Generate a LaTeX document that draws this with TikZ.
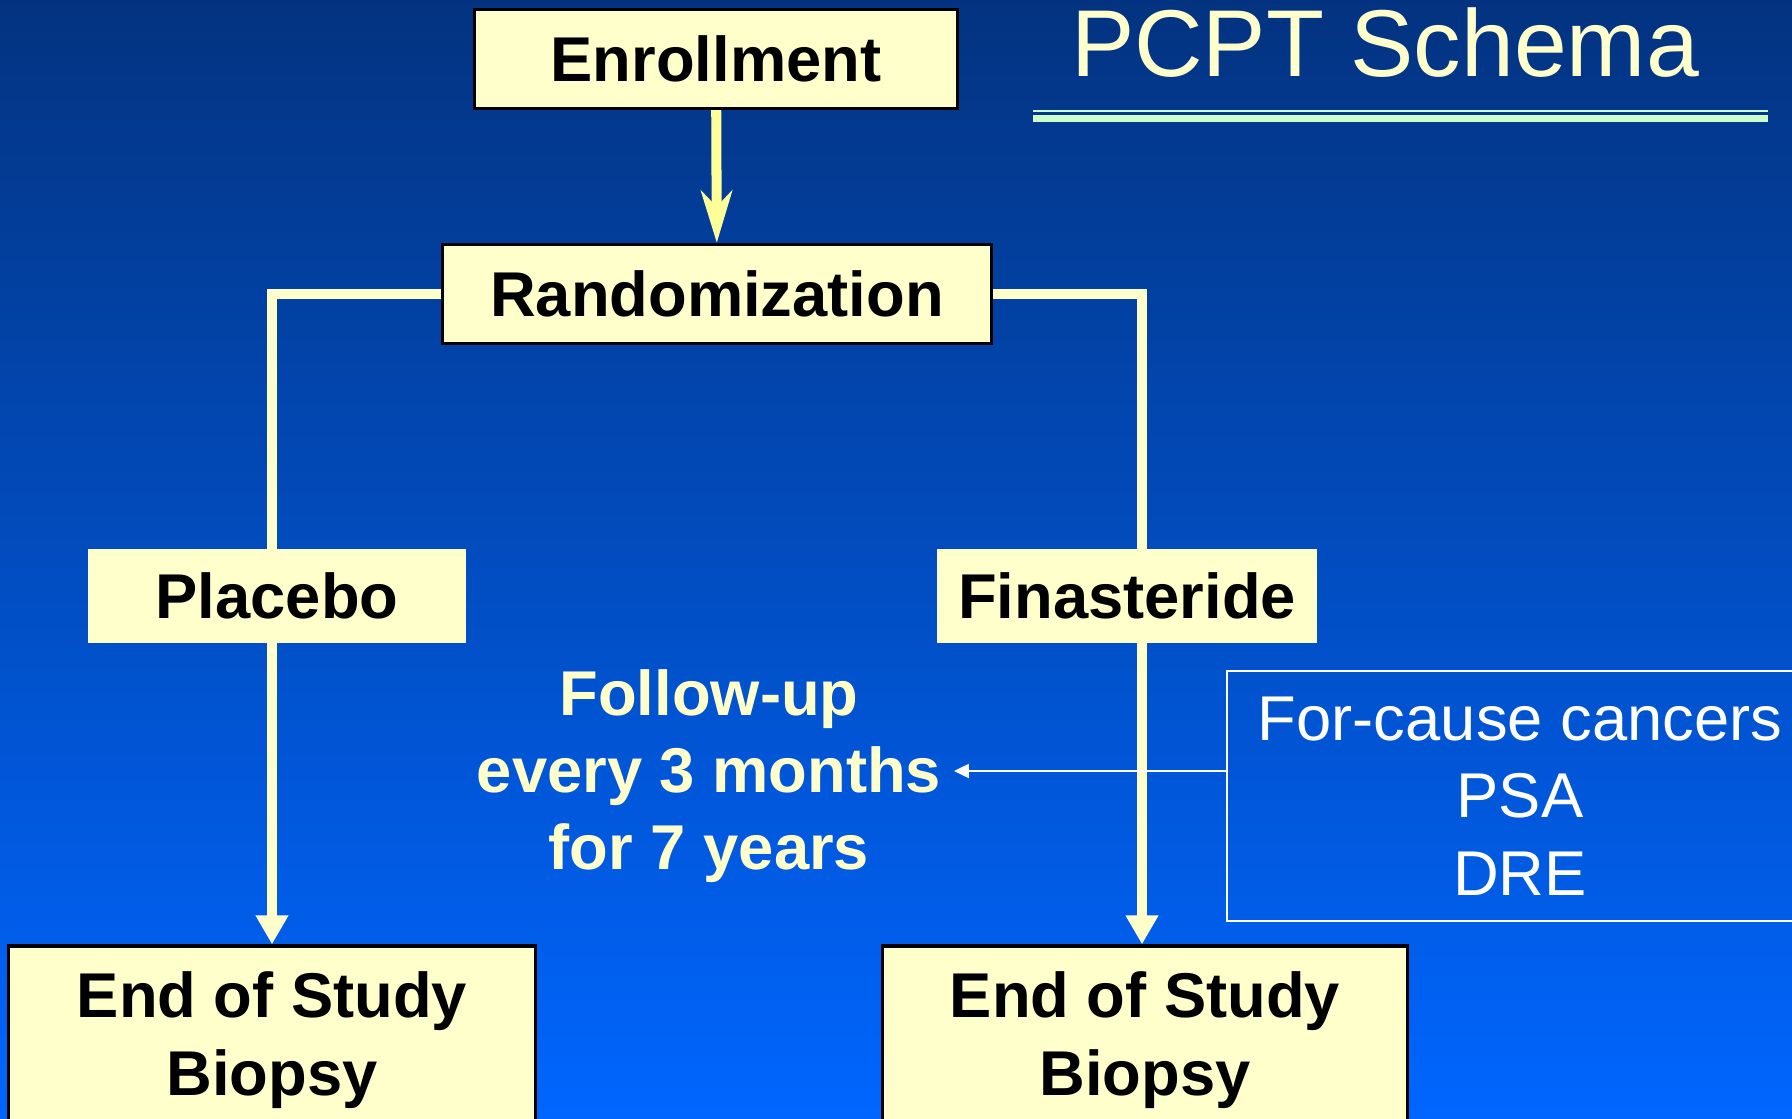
\documentclass[tikz,border=0pt]{standalone}
\usepackage{fontspec}
\setmainfont{Liberation Sans}
\usetikzlibrary{arrows.meta}
\definecolor{paleYellow}{HTML}{FFFFCC}
\definecolor{brightYellow}{HTML}{FFFF99}
\definecolor{paleGreen}{HTML}{CCFFCC}
\definecolor{navyTop}{RGB}{3,51,128}
\definecolor{blueBottom}{RGB}{0,102,255}
\begin{document}
\begin{tikzpicture}
[x=0.01cm,y=-0.01cm,
  boxDecorate/.style={fill=paleYellow,text=black,align=center,inner sep=0pt,
    font=\fontsize{18}{22}\selectfont\bfseries},
  borderDecorate/.style={boxDecorate,draw=black,line width=0.9pt},
  infoDecorate/.style={draw=white,line width=0.6pt,text=white,align=center,
    font=\fontsize{18}{22}\selectfont},
  linkDecorate/.style={draw=paleYellow,line width=2.85pt},
  arrowDecorate/.style={linkDecorate,-{Triangle[length=2.9mm,width=3.1mm]}},
  thinDecorate/.style={draw=white,line width=0.6pt,-{Triangle[length=1.5mm,width=1.4mm]}}]
%% background
\clip (0,0) rectangle (1792,1119);
\shade[top color=navyTop,bottom color=blueBottom] (0,0) rectangle (1792,1119);
%% title
\node (title) at (1385,77) [anchor=base,text=paleYellow,
  font=\fontsize{27}{32}\selectfont] {PCPT Schema};
\draw[paleGreen,line width=0.57pt] (1033,111) -- (1768,111);
\draw[paleGreen,line width=2pt] (1033,118.5) -- (1768,118.5);
%% nodes or boxes
\foreach \nodename/\x/\y/\boxw/\boxh/\deco/\txt in {
  enroll/716/59/4.83/0.99/borderDecorate/Enrollment,
  random/717/294/5.48/0.99/borderDecorate/Randomization,
  placebo/277/596/3.77/0.93/boxDecorate/Placebo,
  finast/1127/596/3.80/0.93/boxDecorate/Finasteride,
  endL/272/1040/5.26/1.88/borderDecorate/{End of Study\\Biopsy},
  endR/1145/1040/5.25/1.88/borderDecorate/{End of Study\\Biopsy}}
{
  \node (\nodename) at (\x,\y) [\deco,minimum width=\boxw cm,minimum height=\boxh cm] {\txt};
}
\node (follow) at (709,776) [text=paleYellow,align=center,inner xsep=0.12cm,
  font=\fontsize{18}{22}\selectfont\bfseries] {Follow-up\\every 3 months\\for 7 years};
\node (info) at (1520,796) [infoDecorate,minimum width=5.86cm,minimum height=2.49cm]
  {For-cause cancers\\PSA\\DRE};
\coordinate (leftTurn) at (272,294);
\coordinate (rightTurn) at (1142,294);
\coordinate (arrowLevel) at (0,771);
%% edges or lines
\draw[linkDecorate,brightYellow,-{Stealth[length=5.2mm,width=3.1mm,inset=1.6mm]}]
  (enroll) -- (random);
\draw[linkDecorate] (random.west) -- (leftTurn) -- (leftTurn |- placebo.north);
\draw[linkDecorate] (random.east) -- (rightTurn) -- (rightTurn |- finast.north);
\draw[arrowDecorate] (leftTurn |- placebo.south) -- (leftTurn |- endL.north);
\draw[arrowDecorate] (rightTurn |- finast.south) -- (rightTurn |- endR.north);
\draw[thinDecorate] (info.west |- arrowLevel) -- (follow.east |- arrowLevel);
\end{tikzpicture}
\end{document}
